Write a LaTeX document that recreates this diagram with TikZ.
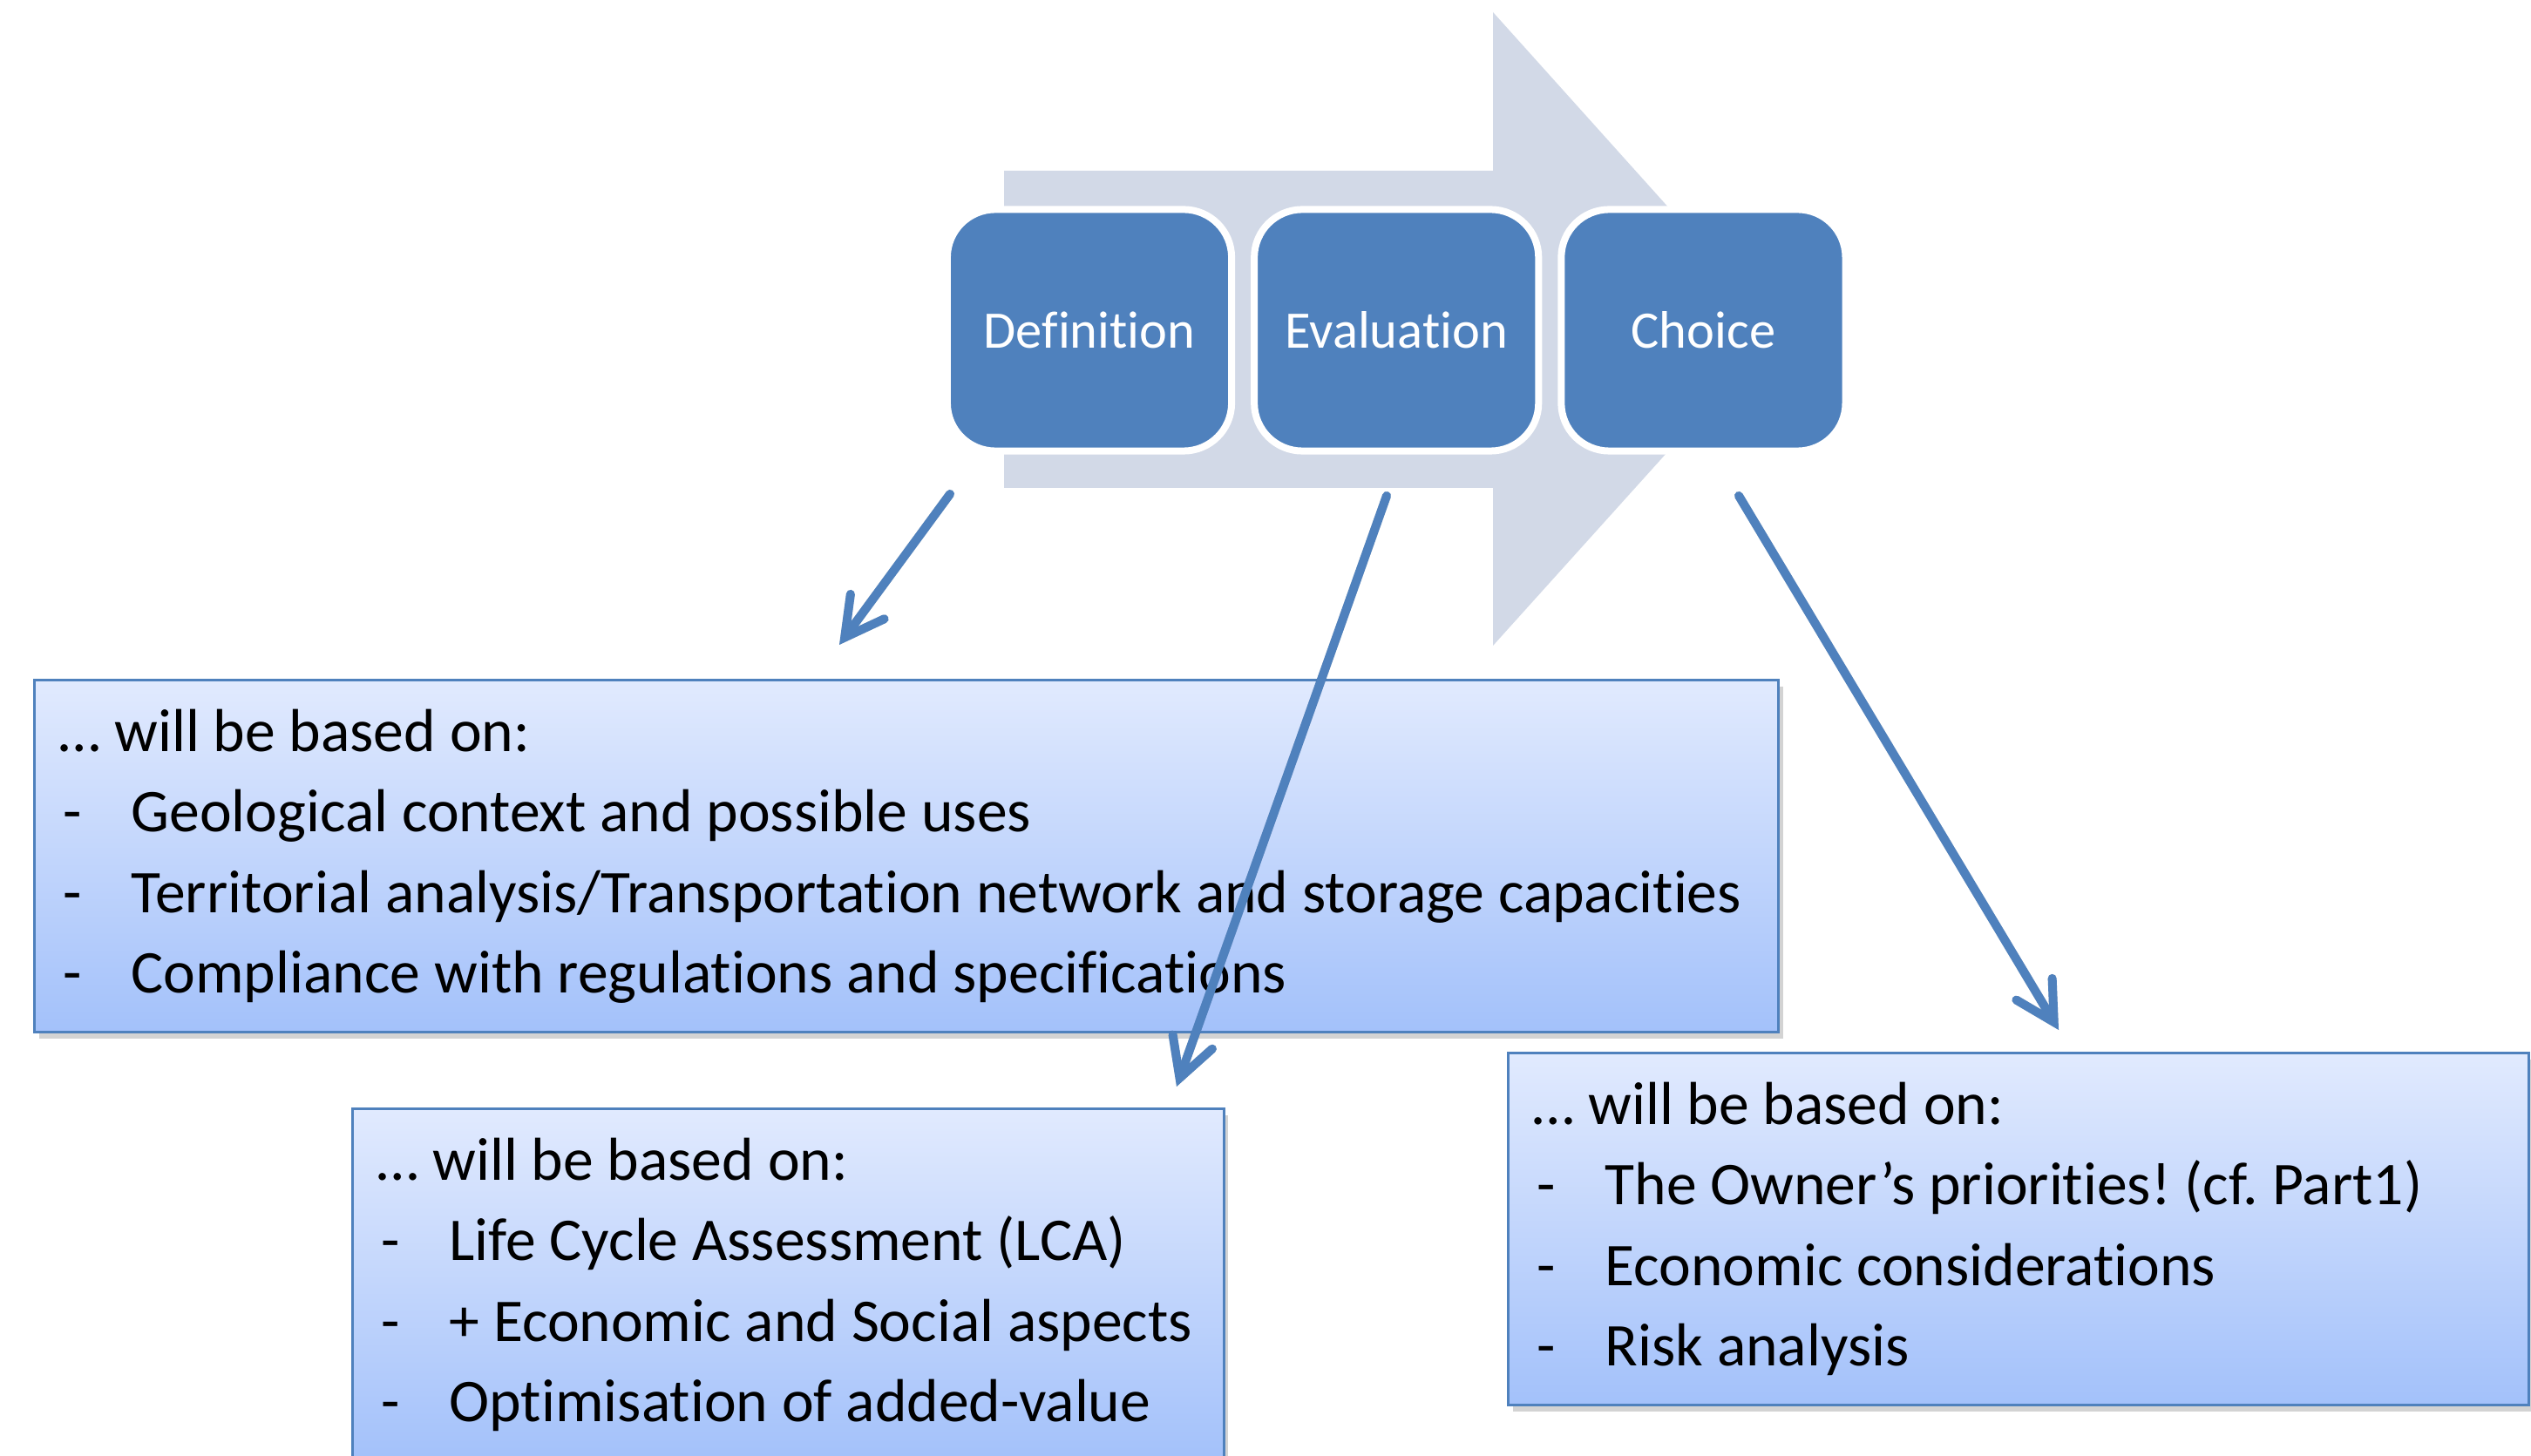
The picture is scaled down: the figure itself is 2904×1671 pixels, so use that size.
\documentclass[tikz,border=0pt]{standalone}
\usepackage{fontspec}
\setmainfont{Carlito}[Ligatures=NoCommon]
\usetikzlibrary{positioning, arrows.meta, shadows}

\definecolor{stepblue}{HTML}{4F81BD}
\definecolor{flowgrey}{HTML}{D2D9E7}
\definecolor{notetop}{HTML}{E1EAFE}
\definecolor{notebottom}{HTML}{A3C1FA}

\newcommand{\notespace}{\frenchspacing\spaceskip=4.5pt\relax}

\tikzset{
	stage/.style={draw=white, line width=0.08cm, fill=stepblue, rounded corners=0.55cm,
		minimum width=3.26cm, minimum height=2.77cm, text=white, font=\fontsize{17.2}{20}\selectfont},
	note/.style={draw=stepblue, line width=0.03cm, top color=notetop, bottom color=notebottom,
		anchor=north west, minimum height=4.04cm, align=left, inner xsep=0.28cm,
		font=\fontsize{19.8}{26.3}\selectfont,
		drop shadow={shadow xshift=0.05cm, shadow yshift=-0.07cm, opacity=0.35}},
	link/.style={draw=stepblue, line width=0.1cm, line cap=round,
		-{Straight Barb[length=0.44cm, width=0.48cm, line cap=round, line width=0.1cm]}},
	linkshadow/.style={link, draw=black, opacity=0.18, shift={(4,6)}}
}

\newcommand{\dashitem}[1]{\makebox[0.83cm][l]{\hspace{0.05cm}-}\mbox{#1}}

\begin{document}
\begin{tikzpicture}[x=0.01cm, y=-0.01cm]
	\useasboundingbox (0,0) rectangle (2904,1671);

	% Draw the process arrow behind the steps
	\fill[flowgrey] (1152,196) -- (1713,196) -- (1713,14) -- (2040,378)
		-- (1713,741) -- (1713,560) -- (1152,560) -- cycle;

	\node[stage] (def) at (1250,379) {Definition};
	\node[stage, right=0.18cm of def] (eval) {Evaluation};
	\node[stage, right=0.18cm of eval] (choice) {Choice};

	% Draw the three notes
	\node[note, text width=19.44cm] (defnote) at (38,779) {\notespace
		… will be based on:\\
		\dashitem{Geological context and possible uses}\\
		\dashitem{Territorial analysis/Transportation network and storage capacities}\\
		\dashitem{Compliance with regulations and specifications}};

	\node[note, text width=9.43cm] (evalnote) at (403,1271) {\notespace
		… will be based on:\\
		\dashitem{Life Cycle Assessment (LCA)}\\
		\dashitem{+ Economic and Social aspects}\\
		\dashitem{Optimisation of added-value}};

	\node[note, text width=11.14cm] (choicenote) at (1729,1207) {\notespace
		… will be based on:\\
		\dashitem{The Owner’s priorities! (cf. Part1)}\\
		\dashitem{Economic considerations}\\
		\dashitem{Risk analysis}};

	\coordinate (defout) at (1090,567);
	\coordinate (defin) at (963,740);
	\coordinate (evalout) at (1591,569);
	\coordinate (evalin) at (1350,1247);
	\coordinate (choiceout) at (1995,569);
	\coordinate (choicein) at (2362,1182);

	\foreach \a/\b in {defout/defin, evalout/evalin, choiceout/choicein} {
		\draw[linkshadow] (\a) -- (\b);
		\draw[link] (\a) -- (\b);
	}
\end{tikzpicture}
\end{document}
